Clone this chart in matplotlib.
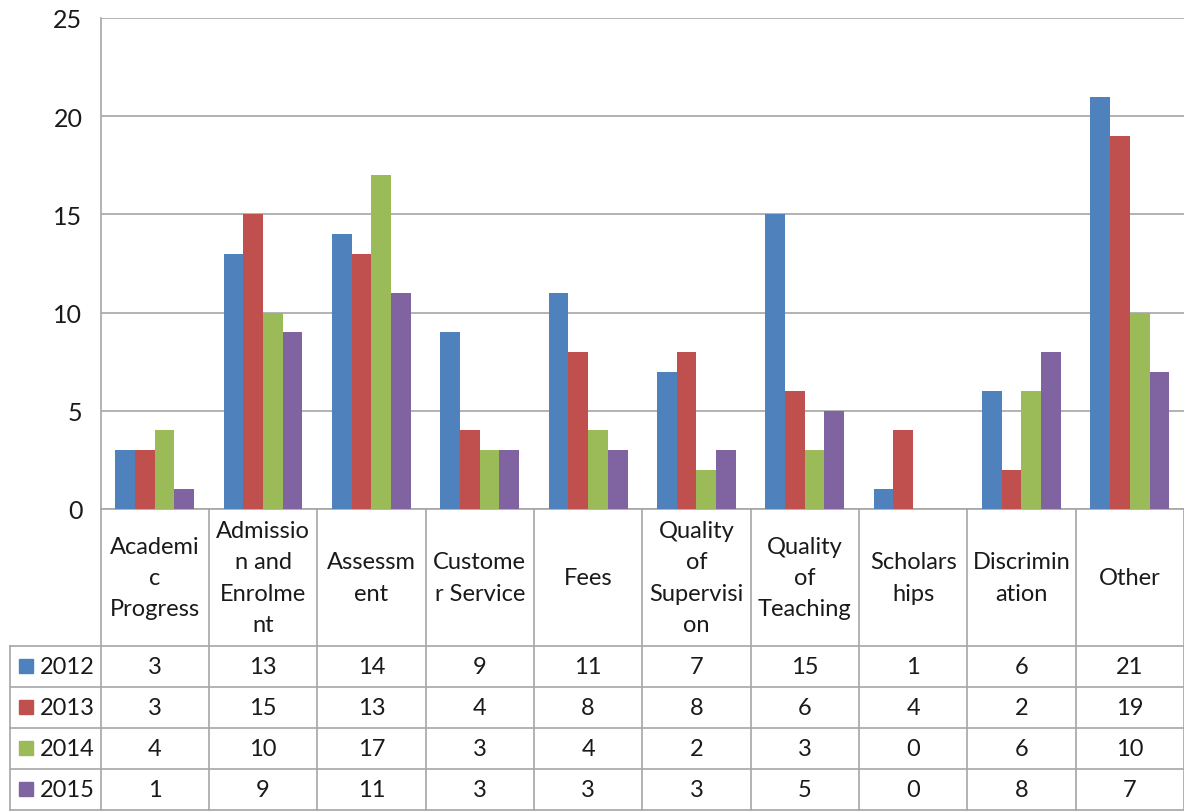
import matplotlib.pyplot as plt
import numpy as np
from matplotlib.patches import Rectangle

categories = ['Academi\nc\nProgress', 'Admissio\nn and\nEnrolme\nnt', 'Assessm\nent',
              'Custome\nr Service', 'Fees', 'Quality\nof\nSupervisi\non', 'Quality\nof\nTeaching',
              'Scholars\nhips', 'Discrimin\nation', 'Other']
years = ['2012', '2013', '2014', '2015']
v2012 = [3, 13, 14, 9, 11, 7, 15, 1, 6, 21]
v2013 = [3, 15, 13, 4, 8, 8, 6, 4, 2, 19]
v2014 = [4, 10, 17, 3, 4, 2, 3, 0, 6, 10]
v2015 = [1, 9, 11, 3, 3, 3, 5, 0, 8, 7]
series = [v2012, v2013, v2014, v2015]
colors = ['#4F81BD', '#C0504D', '#9BBB59', '#8064A2']

plt.rcParams['font.family'] = ['Lato', 'DejaVu Sans']
grid_c = '#A6A6A6'
txt_c = '#1a1a1a'
fs = 17

W, H = 1184, 812
fig = plt.figure(figsize=(W / 100, H / 100), dpi=100)

# main bar area
x0, x1, ytop, y0 = 100.5, 1184, 19, 510
ax = fig.add_axes([x0 / W, 1 - y0 / H, (x1 - x0) / W, (y0 - ytop) / H])
x = np.arange(len(categories))
bw = 0.182
for i, vals in enumerate(series):
    ax.bar(x + (i - 1.5) * bw, vals, bw, color=colors[i], zorder=3)
ax.set_xlim(-0.5, len(categories) - 0.5)
ax.set_ylim(0, 25)
ax.set_yticks(np.arange(0, 26, 5))
ax.set_xticks([])
ax.yaxis.grid(True, color=grid_c, lw=1.2)
ax.set_axisbelow(True)
for s in ['top', 'right']:
    ax.spines[s].set_visible(False)
for s in ['left', 'bottom']:
    ax.spines[s].set_color(grid_c)
    ax.spines[s].set_linewidth(1.2)
ax.tick_params(axis='y', length=0, pad=13, labelsize=fs + 1, labelcolor=txt_c)

# data table below
colw = (x1 - x0) / len(categories)
tleft = 10
tb = 811
ax2 = fig.add_axes([tleft / W, 1 - tb / H, (x1 - tleft) / W, (tb - y0) / H])
ax2.set_xlim(-0.5 - (x0 - tleft) / colw, len(categories) - 0.5)
ax2.set_ylim(tb, y0)
ax2.axis('off')

row_lines = [647, 688, 729, 770, 811]
lx = -0.5 - (x0 - tleft) / colw
for k in range(len(categories) + 1):
    ax2.plot([k - 0.5, k - 0.5], [y0, tb], color=grid_c, lw=1.2, clip_on=False)
ax2.plot([lx, lx], [row_lines[0], tb], color=grid_c, lw=1.2, clip_on=False)
for r in row_lines:
    ax2.plot([lx, len(categories) - 0.5], [r, r], color=grid_c, lw=1.2, clip_on=False)

hdr_mid = (y0 + row_lines[0]) / 2
for k, c in enumerate(categories):
    ax2.text(k, hdr_mid, c, ha='center', va='center', fontsize=fs, color=txt_c,
             linespacing=1.6)

for i, vals in enumerate(series):
    ymid = (row_lines[i] + row_lines[i + 1]) / 2
    ax2.add_patch(Rectangle((lx + 9 / colw, ymid - 7), 14 / colw, 14, color=colors[i],
                            clip_on=False))
    ax2.text(lx + 30 / colw, ymid, years[i], ha='left', va='center', fontsize=fs,
             color=txt_c)
    for k, v in enumerate(vals):
        ax2.text(k, ymid, str(v), ha='center', va='center', fontsize=fs, color=txt_c)

fig.savefig('out.png', dpi=100)
